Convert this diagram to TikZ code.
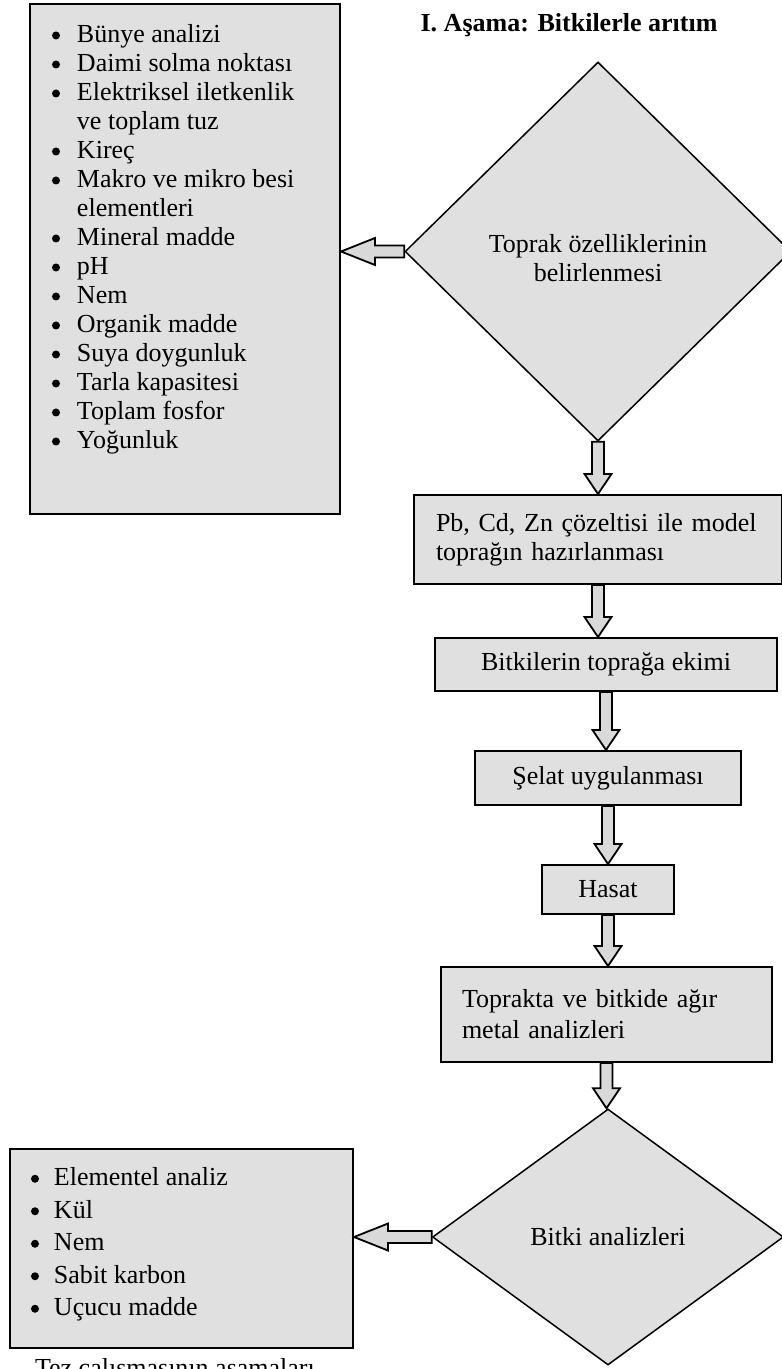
\documentclass[tikz,border=0pt]{standalone}
\usepackage{fontspec}
\setmainfont{Liberation Serif}
\usetikzlibrary{shapes.geometric,calc}
\definecolor{boxfill}{RGB}{224,224,224}
\definecolor{arrfill}{RGB}{217,217,217}
\newcommand\dnarrow[2]{\path[barrow] let \p1=(#1), \p2=(#2) in
  (\x1-3pt,\y1) -- (\x1+3pt,\y1) -- (\x1+3pt,\y2+10pt) -- (\x1+6.75pt,\y2+10pt)
  -- (\x1,\y2) -- (\x1-6.75pt,\y2+10pt) -- (\x1-3pt,\y2+10pt) -- cycle;}
\newcommand\ltarrow[2]{\path[barrow] let \p1=(#1), \p2=(#2) in
  (\x1,\y1-3pt) -- (\x1,\y1+3pt) -- (\x2+17pt,\y1+3pt) -- (\x2+17pt,\y1+6.75pt)
  -- (\x2,\y1) -- (\x2+17pt,\y1-6.75pt) -- (\x2+17pt,\y1-3pt) -- cycle;}
\newcommand\bdot{\tikz[baseline=-3.6pt]\fill[black] (0,0) circle[radius=2pt];}
\newcommand\bitem[1]{\hspace*{11pt}\makebox[12.5pt][l]{\bdot}#1\\}
\newcommand\bcont[1]{\hspace*{23.5pt}#1\\}
\newcommand\citem[1]{\hspace*{10.5pt}\makebox[11.5pt][l]{\bdot}#1}
\begin{document}
\begin{tikzpicture}[x=0.5pt,y=-0.5pt,font=\fontsize{13}{14.5}\selectfont,
  box/.style={draw,line width=1pt,fill=boxfill,inner sep=0pt},
  dia/.style={diamond,draw,line width=0.75pt,fill=boxfill,inner sep=0pt},
  barrow/.style={draw,line width=0.9pt,fill=arrfill,line join=miter}]
\useasboundingbox (0,0) rectangle (781,1369);

\node[anchor=base,font=\fontsize{13}{14.5}\selectfont\bfseries] (title) at (569,31.7) {I. Aşama: Bitkilerle arıtım};

\node[dia,minimum width=193pt,minimum height=189.5pt] (d1) at (598,251.5) {};
\node[align=center] (d1t) at (598,258) {Toprak özelliklerinin\\belirlenmesi};

\node[box,anchor=north west] (lb1) at (29,3)
  {\parbox[c][255pt][t]{155pt}{\vspace*{9.2pt}\fontsize{13}{14.5}\selectfont
  \bitem{\strut Bünye analizi}
  \bitem{Daimi solma noktası}
  \bitem{Elektriksel iletkenlik}
  \bcont{ve toplam tuz}
  \bitem{Kireç}
  \bitem{Makro ve mikro besi}
  \bcont{elementleri}
  \bitem{Mineral madde}
  \bitem{pH}
  \bitem{Nem}
  \bitem{Organik madde}
  \bitem{Suya doygunluk}
  \bitem{Tarla kapasitesi}
  \bitem{Toplam fosfor}
  \hspace*{11pt}\makebox[12.5pt][l]{\bdot}Yoğunluk}};

\node[box,anchor=north west,minimum height=44.5pt,inner xsep=11pt,text width=162pt,align=left] (b2) at (413,494)
  {Pb, Cd, Zn çözeltisi ile model\\toprağın hazırlanması};

\node[box,anchor=north west,minimum width=171pt,minimum height=26.5pt] (b3) at (434,637)
  {Bitkilerin toprağa ekimi};

\node[box,anchor=north west,minimum width=133pt,minimum height=27pt] (b4) at (474,750)
  {Şelat uygulanması};

\node[box,anchor=north west,minimum width=66pt,minimum height=24.5pt] (b5) at (541,864)
  {Hasat};

\node[box,anchor=north west,minimum height=47.5pt,inner xsep=10.5pt,text width=144.5pt,align=left,
  font=\fontsize{13}{15.5}\selectfont] (b6) at (440,966)
  {Toprakta ve bitkide ağır\\metal analizleri};

\node[dia,minimum width=175.5pt,minimum height=128pt] (d2) at (608,1237) {};
\node (d2t) at (608,1237) {Bitki analizleri};

\node[box,anchor=north west] (lb2) at (9,1148)
  {\parbox[c][99.5pt][t]{171.5pt}{\vspace*{7.1pt}\fontsize{13}{16.25}\selectfont
  \citem{\strut Elementel analiz}\\
  \citem{Kül}\\
  \citem{Nem}\\
  \citem{Sabit karbon}\\
  \citem{Uçucu madde}}};

\node[anchor=base west] (foot) at (28,1376) {Tez çalışmasının aşamaları};

\ltarrow{d1.west}{lb1.east}
\dnarrow{d1.south}{b2.north}
\dnarrow{b2.south}{b3.north}
\dnarrow{b3.south}{b4.north}
\dnarrow{b4.south}{b5.north}
\dnarrow{b5.south}{b6.north}
\dnarrow{b6.south}{d2.north}
\ltarrow{d2.west}{lb2.east}
\end{tikzpicture}
\end{document}
